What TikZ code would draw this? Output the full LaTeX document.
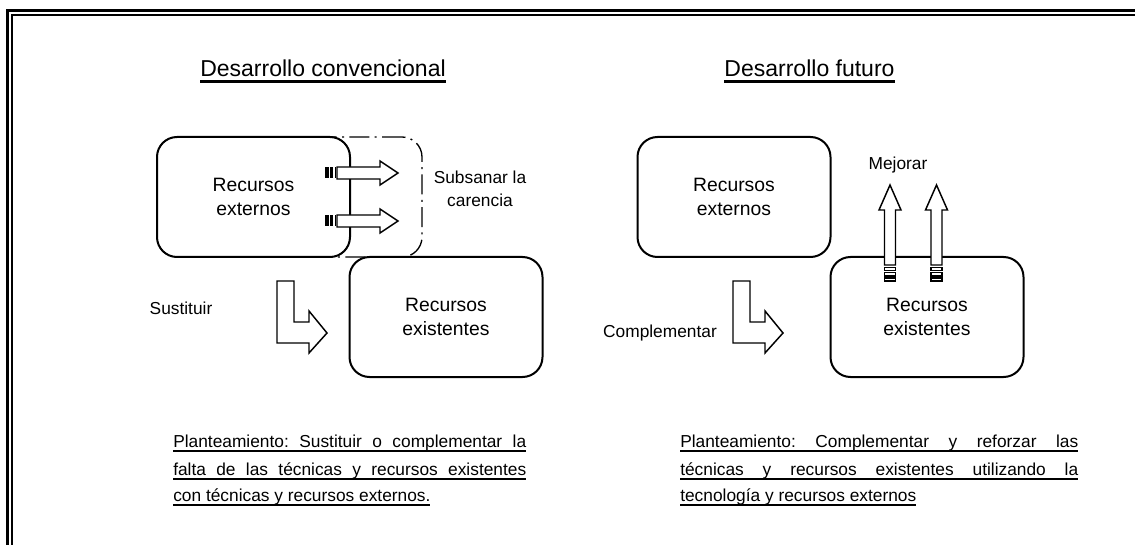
\documentclass[tikz,border=0pt]{standalone}
\usepackage{fontspec}
\setmainfont{Liberation Sans}
\frenchspacing
\newsavebox\ulsave
\newcommand\ulbox[1]{\sbox\ulsave{#1}\rlap{\rule[-3.7pt]{\wd\ulsave}{1.5pt}}\usebox\ulsave}
\newcommand\ultitle[1]{\sbox\ulsave{#1}\rlap{\rule[-4.2pt]{\wd\ulsave}{2pt}}\usebox\ulsave}
\begin{document}
\begin{tikzpicture}[x=0.75pt,y=-0.75pt,
  resbox/.style={draw, line width=1.5pt, rounded corners=15pt, fill=white,
    minimum width=144.75pt, minimum height=90pt, inner sep=0pt, align=center,
    font=\fontsize{14.5}{17.5}\selectfont},
  gapbox/.style={draw, line width=1pt, rounded corners=15pt,
    dash pattern=on 15pt off 4pt on 1.5pt off 4pt,
    minimum width=144.75pt, minimum height=90pt, inner sep=0pt},
  titletext/.style={inner sep=0pt, font=\fontsize{17.25}{20}\selectfont},
  labeltext/.style={inner sep=0pt, align=center, font=\fontsize{13}{17.25}\selectfont},
  paratext/.style={inner sep=0pt, font=\fontsize{13}{20.25}\selectfont},
  blockarrow/.style={draw, fill=white, line width=1.1pt, line join=miter},
  plugbar/.style={fill=black},
  plugring/.style={draw, fill=white, line width=0.8pt}]
\useasboundingbox (0,0) rectangle (1135,545);
\clip (0,0) rectangle (1135,545);
% frame
\draw[line width=2.25pt] (7.5,560) -- (7.5,10.3) -- (1150,10.3);
\draw[line width=1.1pt] (12,560) -- (12,14.8) -- (1150,14.8);

% titles
\node[titletext, anchor=base] (t1) at (323,77) {\ultitle{Desarrollo convencional}};
\node[titletext, anchor=base] (t2) at (809.5,77) {\ultitle{Desarrollo futuro}};

% left diagram
\node[gapbox] (gap) at (325.5,197) {};
\node[resbox] (ext1) at (253.5,197) {Recursos\\externos};
\node[resbox] (exi1) at (446,317) {Recursos\\existentes};
\node[labeltext] (subs) at (480,189) {Subsanar la\\carencia};
\node[labeltext] (sust) at (181,308) {Sustituir};

% plug arrows (left)
\draw[blockarrow] (337,167) -- (380,167) -- (380,161) -- (398,173) -- (380,185) -- (380,179) -- (337,179) -- cycle;
\draw[blockarrow] (337,215) -- (380,215) -- (380,209) -- (398,221) -- (380,233) -- (380,227) -- (337,227) -- cycle;
\fill[plugbar] (325,167.5) rectangle (328.5,178.5);
\fill[plugbar] (330,167.5) rectangle (333,178.5);
\fill[plugbar] (334.5,167.5) rectangle (336,178.5);
\fill[plugbar] (325,215.5) rectangle (328.5,226.5);
\fill[plugbar] (330,215.5) rectangle (333,226.5);
\fill[plugbar] (334.5,215.5) rectangle (336,226.5);

% L arrow (Sustituir)
\draw[blockarrow] (277,281) -- (294,281) -- (294,322) -- (309,322) -- (309,311) -- (327,333) -- (309,353) -- (309,343) -- (277,343) -- cycle;

% right diagram
\node[resbox] (ext2) at (734,197) {Recursos\\externos};
\node[resbox] (exi2) at (927,317) {Recursos\\existentes};
\node[labeltext] (comp) at (660,333) {Complementar};
\node[labeltext] (mejo) at (898,165) {Mejorar};

% L arrow (Complementar)
\draw[blockarrow] (733,281) -- (750,281) -- (750,322) -- (765,322) -- (765,311) -- (783,333) -- (765,353) -- (765,343) -- (733,343) -- cycle;

% up arrows (Mejorar)
\draw[blockarrow] (884.5,265) -- (884.5,210) -- (879,210) -- (890,185) -- (901,210) -- (895.5,210) -- (895.5,265) -- cycle;
\draw[blockarrow] (931,265) -- (931,210) -- (925.5,210) -- (936.5,185) -- (947.5,210) -- (942,210) -- (942,265) -- cycle;
\draw[plugring] (884.5,267.5) rectangle (895.5,270.5);
\draw[plugring] (884.5,272.5) rectangle (895.5,276);
\draw[plugring] (884.5,278) rectangle (895.5,281);
\draw[plugring] (931,267.5) rectangle (942,270.5);
\draw[plugring] (931,272.5) rectangle (942,276);
\draw[plugring] (931,278) rectangle (942,281);

% statements
\node[paratext, anchor=base west] (p1a) at (173,447) {\ulbox{\makebox[264.75pt][s]{Planteamiento: Sustituir o complementar la}}};
\node[paratext, anchor=base west] (p1b) at (173,475) {\ulbox{\makebox[264.75pt][s]{falta de las técnicas y recursos existentes}}};
\node[paratext, anchor=base west] (p1c) at (173,501) {\ulbox{con técnicas y recursos externos.}};
\node[paratext, anchor=base west] (p2a) at (680,447) {\ulbox{\makebox[298.5pt][s]{Planteamiento: Complementar y reforzar las}}};
\node[paratext, anchor=base west] (p2b) at (680,475) {\ulbox{\makebox[298.5pt][s]{técnicas y recursos existentes utilizando la}}};
\node[paratext, anchor=base west] (p2c) at (680,501) {\ulbox{tecnología y recursos externos}};
\end{tikzpicture}
\end{document}
